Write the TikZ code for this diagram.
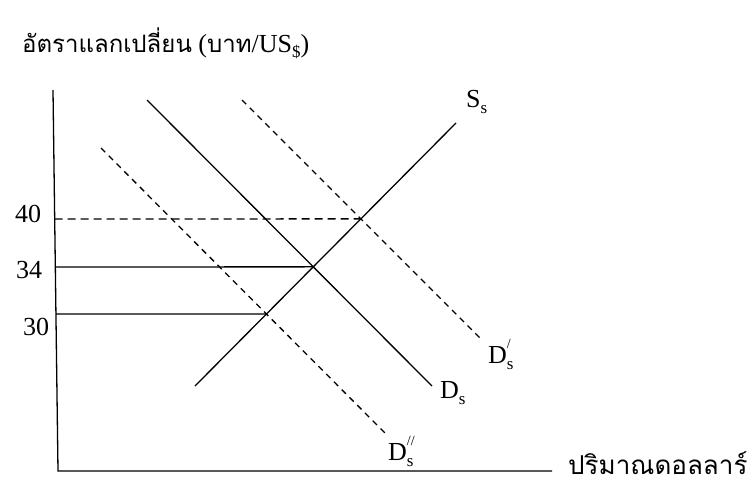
\documentclass[tikz,border=0pt]{standalone}
\usepackage{fontspec}
\setmainfont{Liberation Serif}
\newfontfamily\thaifont[Script=Thai]{Loma}
\newcommand\subs[1]{\raisebox{-6pt}{\fontsize{17}{17}\selectfont #1}}
\newcommand\Dlab[1]{D\rlap{\raisebox{15pt}{\fontsize{14}{14}\selectfont #1}}\subs{s}}
\begin{document}
\begin{tikzpicture}[x=1pt,y=-1pt,
  axisline/.style={line width=1.3pt},
  curve/.style={line width=1.3pt},
  dcurve/.style={line width=1.3pt, dash pattern=on 6pt off 5pt},
  hdash/.style={line width=1.3pt, dash pattern=on 8pt off 5pt},
  lbl/.style={font=\fontsize{26}{30}\selectfont, inner sep=0pt, anchor=base west},
  ttl/.style={font=\fontsize{26}{30}\selectfont, inner sep=0pt, anchor=base west},
  thaix/.style={font=\thaifont\fontsize{26}{30}\selectfont, inner sep=0pt, anchor=base west}]
\useasboundingbox (0,0) rectangle (750,485);
\fill[white] (0,0) rectangle (750,485);

% axes
\coordinate (ytop) at (53,90);
\coordinate (O) at (58,471);
\coordinate (xend) at (552,471);
\draw[axisline] (ytop) -- (O) -- (xend);

% curves
\coordinate (S1) at (195,386);  \coordinate (S2) at (456,123);
\coordinate (D1) at (147,100);  \coordinate (D2) at (432,386);
\coordinate (P1) at (242,100);  \coordinate (P2) at (480,338);
\coordinate (Q1) at (101,148);  \coordinate (Q2) at (385,433);
\draw[curve] (S1) -- (S2);
\draw[curve] (D1) -- (D2);
\draw[dcurve] (P1) -- (P2);
\draw[dcurve] (Q1) -- (Q2);

% equilibria
\coordinate (E34) at (intersection of S1--S2 and D1--D2);
\coordinate (E40) at (intersection of S1--S2 and P1--P2);
\coordinate (E30) at (intersection of S1--S2 and Q1--Q2);
\coordinate (A34) at (55.3,267);
\coordinate (A40) at (54.7,219);
\coordinate (A30) at (55.9,314);
\draw[hdash] (A40) -- (E40);
\draw[curve] (A34) -- (E34);
\draw[curve] (A30) -- (E30);

% tick labels
\node[lbl] (t40) at (15,222) {40};
\node[lbl] (t34) at (16,278) {34};
\node[lbl] (t30) at (23,335) {30};

% curve labels
\node[lbl] (lS) at (466,107) {S\subs{s}};
\node[lbl] (lD) at (440,398) {D\subs{s}};
\node[lbl] (lP) at (488,363) {\Dlab{/}};
\node[lbl] (lQ) at (388,460) {\Dlab{//}};

% axis titles
\node[ttl] (ytitle) at (22,52) {{\thaifont\fontsize{24}{30}\selectfont อัตราแลกเปลี่ยน} ({\thaifont\fontsize{24}{30}\selectfont บาท}/US\raisebox{-5pt}{\fontsize{17}{17}\selectfont\$})};
\node[thaix] (xtitle) at (568,474) {ปริมาณดอลลาร์};
\end{tikzpicture}
\end{document}
